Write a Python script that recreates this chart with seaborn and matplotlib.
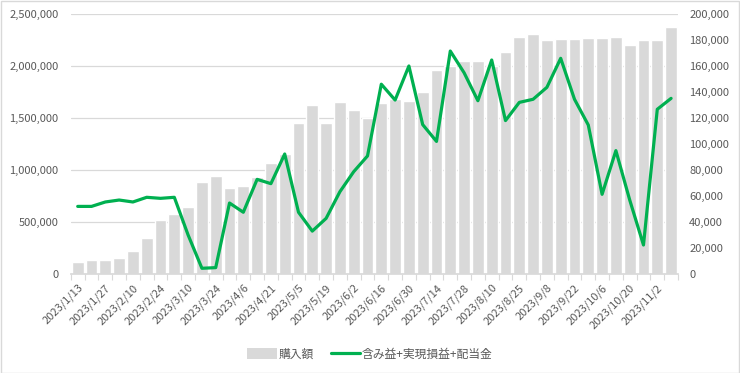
"""
購入額 と 含み益+実現損益+配当金 の推移 (bar + line, twin axis)
"""

import numpy as np
import pandas as pd
import matplotlib
matplotlib.use("Agg")
import matplotlib.pyplot as plt
import seaborn as sns
from matplotlib.ticker import FuncFormatter
from matplotlib.patches import Rectangle
from matplotlib.lines import Line2D
from matplotlib.patches import Patch

# weekly dates
dates = [
    "2023/1/13", "2023/1/20", "2023/1/27", "2023/2/3", "2023/2/10", "2023/2/17",
    "2023/2/24", "2023/3/3", "2023/3/10", "2023/3/17", "2023/3/24", "2023/3/31",
    "2023/4/6", "2023/4/14", "2023/4/21", "2023/4/28", "2023/5/5", "2023/5/12",
    "2023/5/19", "2023/5/26", "2023/6/2", "2023/6/9", "2023/6/16", "2023/6/23",
    "2023/6/30", "2023/7/7", "2023/7/14", "2023/7/21", "2023/7/28", "2023/8/4",
    "2023/8/10", "2023/8/18", "2023/8/25", "2023/9/1", "2023/9/8", "2023/9/15",
    "2023/9/22", "2023/9/29", "2023/10/6", "2023/10/13", "2023/10/20", "2023/10/27",
    "2023/11/2", "2023/11/10",
]

# 購入額 (left axis)
purchase = [
    112000, 135000, 135000, 154000, 221000, 346000, 519000, 577000, 644000, 885000,
    942000, 827000, 846000, 929000, 1067000, 1154000, 1452000, 1625000, 1452000, 1654000,
    1577000, 1500000, 1641000, 1680000, 1663000, 1747000, 1962000, 2000000, 2048000, 2048000,
    2000000, 2132000, 2276000, 2308000, 2250000, 2257000, 2257000, 2266000, 2266000, 2276000,
    2199000, 2247000, 2247000, 2372000,
]

# 含み益+実現損益+配当金 (right axis)
profit = [
    52000, 52000, 55400, 56900, 55400, 59000, 58200, 59000, 30000, 4400,
    4900, 54600, 47500, 72800, 69500, 92300, 47500, 33000, 42800, 63300,
    78700, 90800, 146000, 133800, 160000, 114900, 102000, 171500, 154800, 133300,
    164600, 118000, 132000, 134400, 143600, 165900, 134400, 114600, 61300, 94900,
    57000, 22300, 126700, 135100,
]

left_ticks = [0, 500000, 1000000, 1500000, 2000000, 2500000]
right_ticks = list(range(0, 200001, 20000))

df = pd.DataFrame({"date": dates, "purchase": purchase, "profit": profit})

sns.set_theme(style="white")
plt.rcParams["font.family"] = ["Noto Sans CJK JP", "DejaVu Sans"]

BAR_COLOR = "#d9d9d9"
LINE_COLOR = "#00b050"
TEXT_COLOR = "#595959"
GRID_COLOR = "#d9d9d9"

fig = plt.figure(figsize=(7.4, 3.73), dpi=100)
ax = fig.add_axes([0.0957, 0.2654, 0.8205, 0.6971])

sns.barplot(data=df, x="date", y="purchase", color=BAR_COLOR, saturation=1,
            width=0.85, ax=ax, zorder=2)
ax.set_ylim(0, 2500000)
ax.set_yticks(left_ticks)
ax.yaxis.set_major_formatter(FuncFormatter(lambda v, p: f"{int(v):,}"))
ax.grid(axis="y", color=GRID_COLOR, linewidth=0.9, zorder=0)
ax.set_axisbelow(True)

ax2 = ax.twinx()
sns.pointplot(data=df, x="date", y="profit", color=LINE_COLOR, markers="",
              linewidth=2.3, errorbar=None, ax=ax2)
ax2.set_ylim(0, 200000)
ax2.set_yticks(right_ticks)
ax2.yaxis.set_major_formatter(FuncFormatter(lambda v, p: f"{int(v):,}"))

n = len(dates)
ax.set_xlim(-0.5, n - 0.5)
ax2.set_xlim(-0.5, n - 0.5)
ax.set_xticks(range(0, n, 2))
ax.set_xticklabels(dates[::2], rotation=45, ha="right", rotation_mode="anchor")
ax.set_xticks(np.arange(-0.5, n, 1), minor=True)

for a in (ax, ax2):
    a.set_xlabel("")
    a.set_ylabel("")
    for s in a.spines.values():
        s.set_visible(False)

ax.spines["bottom"].set_visible(True)
ax.spines["bottom"].set_color(GRID_COLOR)
ax.tick_params(axis="x", which="major", length=0, pad=6, labelsize=8,
               labelcolor=TEXT_COLOR)
ax.tick_params(axis="x", which="minor", length=4, width=0.8, color=GRID_COLOR,
               bottom=True)
ax.tick_params(axis="y", length=0, labelsize=8, labelcolor=TEXT_COLOR, pad=9)
ax2.tick_params(axis="y", length=0, labelsize=8, labelcolor=TEXT_COLOR, pad=8)
ax2.tick_params(axis="x", bottom=False, labelbottom=False)

handles = [
    Patch(facecolor=BAR_COLOR, edgecolor="none", label="購入額"),
    Line2D([0], [0], color=LINE_COLOR, linewidth=2.3, label="含み益+実現損益+配当金"),
]
leg = fig.legend(handles=handles, loc="center", bbox_to_anchor=(0.5, 0.051),
                 ncol=2, frameon=False, fontsize=8.5, handlelength=2.5,
                 handleheight=1.0, columnspacing=1.4, handletextpad=0.15)
for t in leg.get_texts():
    t.set_color(TEXT_COLOR)

# chart area border
fig.patches.append(Rectangle((0.001, 0.001), 0.997, 0.996, transform=fig.transFigure,
                             fill=False, edgecolor="#d9d9d9", linewidth=1))

fig.savefig("out.png", dpi=100)
